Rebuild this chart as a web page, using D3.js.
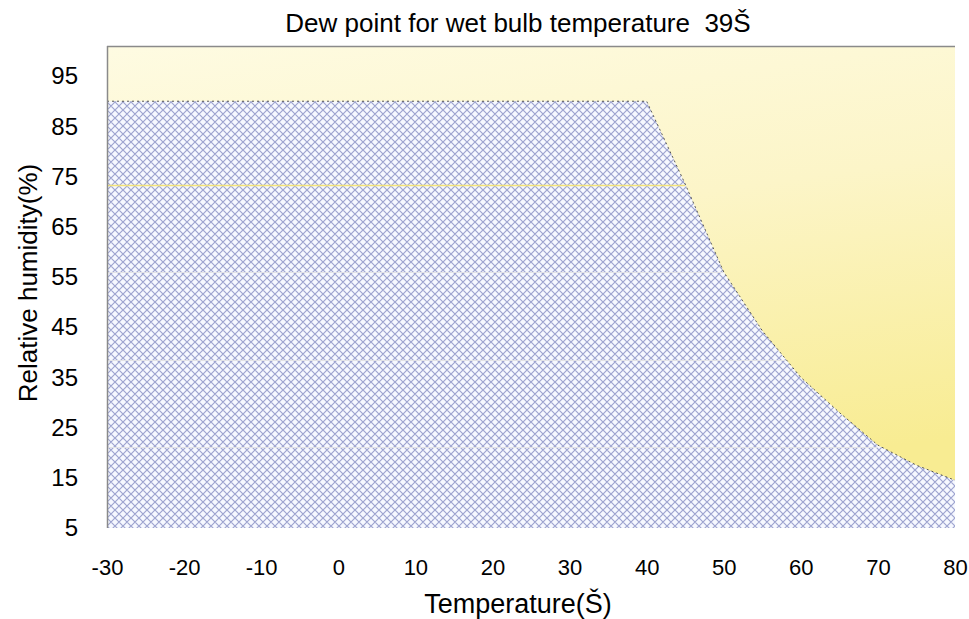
<!DOCTYPE html>
<html>
<head>
<meta charset="utf-8">
<script src="https://cdn.jsdelivr.net/npm/d3@7"></script>
<style>
body { margin: 0; background: #fff; }
text { font-family: "Liberation Sans", Arial, sans-serif; fill: #000; }
</style>
</head>
<body>
<script>
// dew point boundary (temperature -> relative humidity)
var temps = [-30, 40, 45, 50, 55, 60, 65, 70, 75, 80]
var humid = [90, 90, 73.5, 56, 44.3, 35, 28, 21.5, 17.5, 14.5]
// faint band edges inside the hatched area
var bandLevels = [73.3, 55.9, 38.4, 21.1]
var bandEnds = [45, 50, 58, 70]
var xTicks = [-30, -20, -10, 0, 10, 20, 30, 40, 50, 60, 70, 80]
var yTicks = [5, 15, 25, 35, 45, 55, 65, 75, 85, 95]

var W = 969, H = 619
var margin = {top: 46, right: 14, bottom: 91, left: 107}
var width = W - margin.left - margin.right
var height = H - margin.top - margin.bottom

var svg = d3.select("body").append("svg").attr("width", W).attr("height", H)

var defs = svg.append("defs")
var grad = defs.append("linearGradient").attr("id", "bg").attr("x1", 0).attr("y1", 0).attr("x2", 0.25).attr("y2", 1)
grad.append("stop").attr("offset", "0%").attr("stop-color", "#fefbe2")
grad.append("stop").attr("offset", "45%").attr("stop-color", "#fcf5c8")
grad.append("stop").attr("offset", "100%").attr("stop-color", "#f8ec92")

var pat = defs.append("pattern").attr("id", "hatch").attr("patternUnits", "userSpaceOnUse").attr("width", 8).attr("height", 8)
pat.append("rect").attr("width", 8).attr("height", 8).attr("fill", "#f6f8ff")
pat.append("path").attr("d", "M0,0L8,8M8,0L0,8M-4,4L4,-4M4,12L12,4M-4,4L4,12M4,-4L12,4")
    .attr("stroke", "#9ea4d0").attr("stroke-width", 1.2)

var x = d3.scaleLinear().domain([-30, 80]).range([0, width])
var y = d3.scaleLinear().domain([5, 101]).range([height, 0])

var main = svg.append("g").attr("transform", "translate(" + margin.left + "," + margin.top + ")")

main.append("rect").attr("width", width).attr("height", height).attr("fill", "url(#bg)")

var data = temps.map(function(t, i) { return [t, humid[i]] })
var area = d3.area().x(function(d) { return x(d[0]) }).y0(height).y1(function(d) { return y(d[1]) })
main.append("path").datum(data).attr("d", area).attr("fill", "url(#hatch)")
var line = d3.line().x(function(d) { return x(d[0]) }).y(function(d) { return y(d[1]) })
main.append("path").datum(data).attr("d", line).attr("fill", "none").attr("stroke", "#444").attr("stroke-width", 0.9).attr("stroke-dasharray", "2,3")

main.selectAll(".band").data(bandLevels).enter().append("line")
    .attr("x1", 0).attr("x2", function(d, i) { return x(bandEnds[i]) })
    .attr("y1", function(d) { return Math.round(y(d)) + 0.5 }).attr("y2", function(d) { return Math.round(y(d)) + 0.5 })
    .attr("stroke", function(d, i) { return i == 0 ? "#f2e27a" : "#e2e2e6" }).attr("stroke-width", function(d, i) { return i == 0 ? 1.6 : 1.2 })

// frame
main.append("line").attr("x1", 0).attr("x2", width).attr("y1", 0.5).attr("y2", 0.5).attr("stroke", "#8a8a8a").attr("stroke-width", 1.5)
main.append("line").attr("x1", 0.5).attr("x2", 0.5).attr("y1", 0).attr("y2", height).attr("stroke", "#8a8a8a").attr("stroke-width", 1.5)

// axes
var xAxis = d3.axisBottom(x).tickValues(xTicks).tickSize(0).tickPadding(31).tickFormat(function(d) { return String(d) })
var gx = main.append("g").attr("transform", "translate(0," + height + ")").call(xAxis)
gx.select(".domain").remove()
gx.selectAll("text").style("font-size", "22px").attr("font-family", null)

var yAxis = d3.axisLeft(y).tickValues(yTicks).tickSize(0).tickPadding(29)
var gy = main.append("g").call(yAxis)
gy.select(".domain").remove()
gy.selectAll("text").style("font-size", "24px").attr("font-family", null)

svg.append("text").attr("x", 518).attr("y", 32).attr("text-anchor", "middle").style("font-size", "26px").style("white-space", "pre")
    .text("Dew point for wet bulb temperature  39Š")
svg.append("text").attr("x", 518).attr("y", 613).attr("text-anchor", "middle").style("font-size", "27px")
    .text("Temperature(Š)")
svg.append("text").attr("transform", "translate(37,283) rotate(-90)")
    .attr("text-anchor", "middle").style("font-size", "26px").text("Relative humidity(%)")
</script>
</body>
</html>
